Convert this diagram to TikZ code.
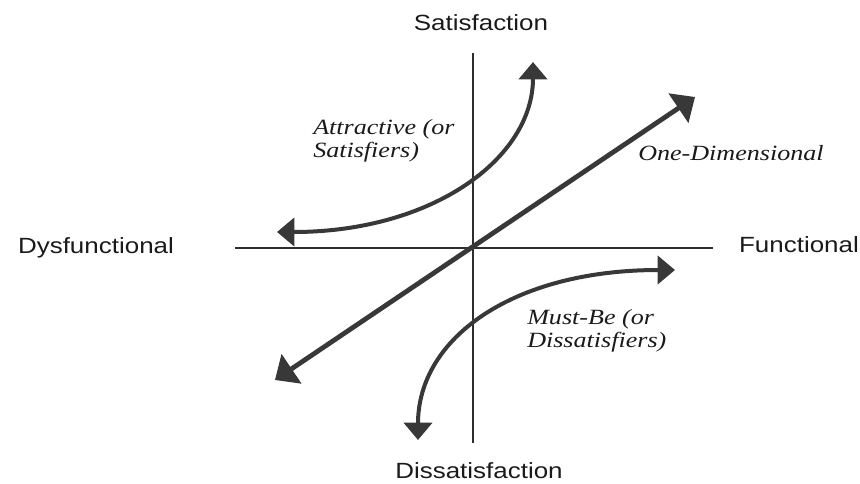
\documentclass[tikz,border=0pt]{standalone}
\usepackage{fontspec}
\setmainfont{Liberation Serif}[FakeStretch=1.2]
\setsansfont{Liberation Sans}[FakeStretch=1.18]
\usetikzlibrary{arrows.meta}
\definecolor{axisgray}{HTML}{2E2E2E}
\definecolor{arrowgray}{HTML}{383838}
\definecolor{labelblack}{HTML}{1A1A1A}

\begin{document}
\begin{tikzpicture}[x=0.75pt,y=0.75pt,
  axis/.style={line width=1.3pt,draw=axisgray},
  curve/.style={line width=3pt,draw=arrowgray,
    {Triangle[width=21pt,length=13pt]}-{Triangle[width=21pt,length=13pt]}},
  diag/.style={line width=3.6pt,draw=arrowgray,
    {Triangle[width=26pt,length=15pt]}-{Triangle[width=26pt,length=15pt]}},
  axislabel/.style={font=\sffamily\fontsize{16.5}{19}\selectfont,text=labelblack,anchor=base,inner sep=0pt},
  kind/.style={font=\itshape\fontsize{16.3}{17.25}\selectfont,text=labelblack,align=left,anchor=base west,inner sep=0pt}]
 \useasboundingbox(-473,-235) rectangle (387,248);
 % 坐标轴
 \coordinate (top) at (0,195);
 \coordinate (bottom) at (0,-195);
 \coordinate (left) at (-238,0);
 \coordinate (right) at (240,0);
 \draw[axis](top)--(bottom);
 \draw[axis](left)--(right);
 \node[axislabel] (sat) at (8,218) {Satisfaction};
 \node[axislabel] (dissat) at (6,-230) {Dissatisfaction};
 \node[axislabel] (dysf) at (-377,-5) {Dysfunctional};
 \node[axislabel] (func) at (326,-4) {Functional};
 % 三条曲线
 \coordinate (d1) at (-198,-132);
 \coordinate (d2) at (222,151);
 \draw[diag](d1)--(d2);
 \coordinate (a1) at (-196,16);
 \coordinate (a2) at (60,186);
 \draw[curve](a1) .. controls (-40,16) and (60,90) .. (a2);
 \coordinate (m1) at (202,-22);
 \coordinate (m2) at (-55,-192);
 \draw[curve](m1) .. controls (40,-22) and (-55,-90) .. (m2);
 % 多行文字的 base 是最后一行
 \node[kind] (onedim) at (165,88) {One-Dimensional};
 \node[kind] (attr) at (-160,91) {Attractive (or\\Satisfiers)};
 \node[kind] (must) at (54,-99) {Must-Be (or\\Dissatisfiers)};
\end{tikzpicture}
\end{document}
